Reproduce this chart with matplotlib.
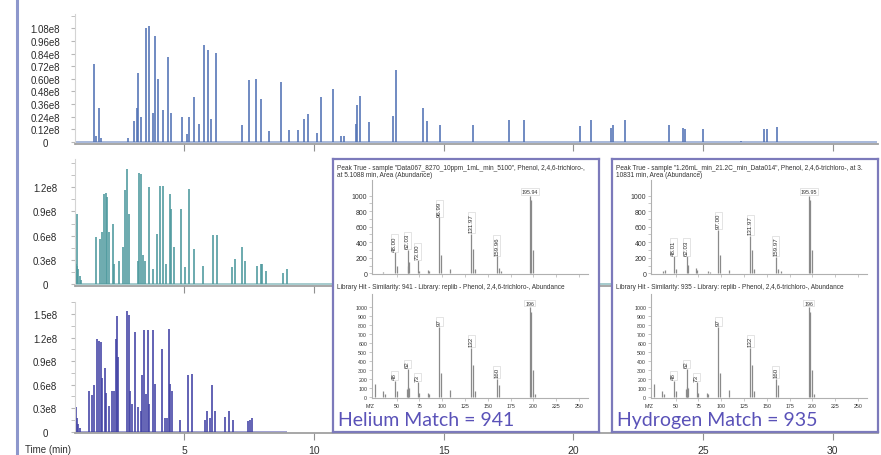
import matplotlib.pyplot as plt
from matplotlib.lines import Line2D

plt.rcParams['font.family'] = ['Liberation Sans', 'DejaVu Sans']

# chromatogram peaks: retention time (min) and height (x 1e8)
top_rt = [1.52, 1.60, 1.71, 1.78, 2.84, 3.07, 3.16, 3.22, 3.32, 3.52,
          3.63, 3.78, 3.86, 3.99, 4.19, 4.38, 4.49, 4.92, 5.09, 5.19,
          5.37, 5.57, 5.76, 5.91, 6.04, 6.22, 7.24, 7.51, 7.75, 7.96,
          8.28, 8.73, 9.04, 9.39, 9.60, 9.77, 10.13, 10.27, 10.74, 11.03,
          11.14, 11.60, 11.66, 11.77, 12.12, 13.03, 13.15, 14.21, 14.34, 14.87,
          16.11, 17.50, 18.08, 20.25, 20.66, 21.45, 21.54, 22.00, 23.70, 24.24,
          24.31, 24.98, 26.45, 27.35, 27.45, 27.85]
top_h = [0.74, 0.06, 0.32, 0.04, 0.04, 0.20, 0.32, 0.66, 0.24, 1.08,
         1.10, 0.28, 1.01, 0.60, 0.30, 0.81, 0.28, 0.24, 0.08, 0.24,
         0.43, 0.17, 0.92, 0.87, 0.22, 0.85, 0.16, 0.59, 0.60, 0.41,
         0.10, 0.57, 0.11, 0.11, 0.22, 0.27, 0.09, 0.43, 0.50, 0.06,
         0.06, 0.17, 0.35, 0.44, 0.19, 0.25, 0.68, 0.32, 0.20, 0.16,
         0.16, 0.21, 0.21, 0.15, 0.21, 0.13, 0.16, 0.21, 0.16, 0.13,
         0.12, 0.12, 0.01, 0.12, 0.12, 0.14]

mid_rt = [0.80, 0.83, 0.85, 0.88, 0.92, 0.97, 1.02, 1.60, 1.75, 1.82,
          1.92, 1.97, 2.03, 2.11, 2.24, 2.30, 2.49, 2.62, 2.71, 2.78,
          2.88, 3.23, 3.27, 3.34, 3.40, 3.50, 3.64, 3.78, 3.94, 4.06,
          4.19, 4.28, 4.45, 4.50, 4.60, 4.88, 5.04, 5.18, 5.37, 5.72,
          6.09, 6.25, 6.85, 6.97, 7.21, 7.34, 7.80, 7.95, 8.00, 8.16,
          8.82, 8.97]
mid_h = [0.95, 0.25, 0.22, 0.87, 0.18, 0.10, 0.05, 0.58, 0.56, 0.64,
         1.12, 1.13, 1.08, 0.64, 0.74, 0.25, 0.29, 0.46, 1.16, 1.43,
         0.87, 0.29, 1.38, 1.36, 0.36, 0.29, 1.20, 0.19, 0.62, 1.22,
         1.22, 0.25, 1.12, 0.93, 0.46, 0.93, 0.21, 1.18, 0.43, 0.22,
         0.61, 0.61, 0.21, 0.31, 0.46, 0.29, 0.22, 0.25, 0.25, 0.16,
         0.14, 0.18]

bot_rt = [0.80, 0.83, 0.87, 0.92, 0.97, 1.34, 1.43, 1.52, 1.65, 1.71,
          1.79, 1.84, 1.93, 1.98, 2.11, 2.20, 2.29, 2.36, 2.39, 2.46,
          2.78, 2.86, 2.91, 3.00, 3.10, 3.23, 3.32, 3.37, 3.46, 3.52,
          3.60, 3.65, 3.80, 3.87, 4.14, 4.24, 4.32, 4.40, 4.44, 4.54,
          4.83, 5.15, 5.30, 5.79, 5.86, 5.98, 6.08, 6.20, 6.58, 6.71,
          6.88, 7.47, 7.53, 7.60]
bot_h = [0.57, 0.31, 0.17, 0.10, 0.05, 0.52, 0.47, 0.59, 1.18, 1.16,
         1.14, 0.69, 0.81, 0.50, 0.33, 0.52, 0.52, 1.18, 1.48, 0.95,
         1.54, 1.49, 0.52, 0.35, 1.27, 0.31, 0.27, 0.72, 1.30, 0.48,
         1.30, 0.35, 1.30, 0.61, 1.06, 0.18, 0.18, 1.31, 0.61, 0.52,
         0.15, 0.72, 0.74, 0.15, 0.27, 0.17, 0.60, 0.27, 0.19, 0.27,
         0.15, 0.13, 0.15, 0.18]

top_run = [0.79, 31.7]
mid_run = [0.79, 31.7]
bot_run = [0.79, 8.95]

time_ticks = [5, 10, 15, 20, 25, 30]

top_yticks = [0, 0.12, 0.24, 0.36, 0.48, 0.60, 0.72, 0.84, 0.96, 1.08]
top_ylabels = ['0', '0.12e8', '0.24e8', '0.36e8', '0.48e8', '0.60e8',
               '0.72e8', '0.84e8', '0.96e8', '1.08e8']
top_yminor = [1.20]
mid_yticks = [0, 0.3, 0.6, 0.9, 1.2]
mid_ylabels = ['0', '0.3e8', '0.6e8', '0.9e8', '1.2e8']
mid_yminor = [0.15, 0.45, 0.75, 1.05, 1.35, 1.5]
bot_yticks = [0, 0.3, 0.6, 0.9, 1.2, 1.5]
bot_ylabels = ['0', '0.3e8', '0.6e8', '0.9e8', '1.2e8', '1.5e8']
bot_yminor = [0.15, 0.45, 0.75, 1.05, 1.35, 1.65]

# mass spectra (m/z, abundance)
he_mz = [35, 37, 48, 50, 62, 63, 64, 73, 75, 84, 86, 97, 99, 109, 132,
         134, 136, 160, 162, 165, 196, 198, 200]
he_ab = [20, 10, 270, 90, 300, 100, 140, 165, 30, 40, 30, 720, 240, 60, 510,
         310, 60, 220, 70, 30, 1000, 950, 300]
he_lab_mz = [48, 62, 73, 97, 132, 160, 196]
he_lab = ['48.00', '62.03', '73.00', '96.99', '131.97', '159.96', '195.94']

h2_mz = [36, 38, 48, 50, 62, 64, 72, 74, 85, 88, 97, 99, 109, 132, 134,
         136, 160, 162, 166, 196, 198, 200]
h2_ab = [30, 40, 220, 60, 220, 110, 70, 40, 30, 20, 560, 230, 40, 480, 300,
         60, 210, 60, 30, 1000, 950, 300]
h2_lab_mz = [48, 62, 97, 132, 160, 196]
h2_lab = ['48.01', '62.03', '97.00', '131.97', '159.97', '195.95']

lib_mz = [26, 35, 37, 48, 50, 61, 62, 63, 64, 73, 75, 84, 86, 97, 99, 109,
          132, 134, 136, 160, 162, 196, 198, 200, 202]
lib_ab = [140, 60, 30, 180, 60, 90, 310, 110, 100, 160, 40, 40, 30, 780, 270, 80,
          550, 350, 60, 200, 130, 1000, 950, 300, 30]
lib_lab_mz = [48, 62, 73, 97, 132, 160, 196]
lib_lab = ['48', '62', '73', '97', '132', '160', '196']

mz_ticks = [50, 75, 100, 125, 150, 175, 200, 225, 250]

W, H = 881, 456
fig = plt.figure(figsize=(W / 100, H / 100), dpi=100)


def rect(x0, y0, x1, y1):
    return [x0 / W, 1 - y1 / H, (x1 - x0) / W, (y1 - y0) / H]


def chrom(box, rt, h, run, color, ylim, yt, ylab, yminor, show_x=False):
    ax = fig.add_axes(rect(*box))
    ax.patch.set_alpha(0)
    ax.hlines(0, run[0], run[1], color=color, lw=1.3, alpha=0.55)
    ax.vlines(rt, 0, [v * 1e8 for v in h], color=color, lw=1.3, alpha=0.9)
    ax.set_xlim(0.786, 31.74)
    ax.set_ylim(ylim[0] * 1e8, ylim[1] * 1e8)
    for s in ['top', 'right']:
        ax.spines[s].set_visible(False)
    ax.spines['bottom'].set_color('#a0a0a0')
    ax.spines['bottom'].set_linewidth(1.3)
    ax.spines['left'].set_color('#d4d4d4')
    ax.spines['left'].set_linewidth(0.8)
    ax.set_xticks(time_ticks)
    ax.set_yticks([v * 1e8 for v in yt])
    ax.set_yticklabels(ylab)
    ax.set_yticks([v * 1e8 for v in yminor], minor=True)
    ax.tick_params(axis='y', which='both', length=3, color='#b8b8b8',
                   pad=18.5, labelsize=7, labelcolor='#2a2a2a')
    for lab in ax.get_yticklabels():
        lab.set_ha('center')
    ax.tick_params(axis='x', length=5, color='#909090', labelsize=7.5,
                   labelcolor='#333333', pad=4, labelbottom=show_x)
    return ax


chrom((75, 15, 878, 145), top_rt, top_h, top_run, '#5374b6', (-0.019, 1.216),
      top_yticks, top_ylabels, top_yminor)
chrom((75, 160, 878, 287), mid_rt, mid_h, mid_run, '#4f9a9e', (-0.025, 1.55),
      mid_yticks, mid_ylabels, mid_yminor)
chrom((75, 303, 878, 434), bot_rt, bot_h, bot_run, '#4444a6', (-0.017, 1.656),
      bot_yticks, bot_ylabels, bot_yminor, show_x=True)

fig.text(48 / W, 1 - 450 / H, 'Time (min)', fontsize=7, color='#333333',
         ha='center', va='center')

fig.add_artist(Line2D([16.5 / W, 16.5 / W], [0, 1], color='#8d97cc', lw=2.2,
                      transform=fig.transFigure))


def spectrum(box, mz, ab, lab_mz, lab, ylim, yt, yminor, labsize, xlabels):
    ax = fig.add_axes(rect(*box))
    ax.vlines(mz, 0, ab, color='#8a8a8a', lw=0.9)
    ax.set_xlim(23, 260)
    ax.set_ylim(*ylim)
    for s in ['top', 'right']:
        ax.spines[s].set_visible(False)
    for s in ['left', 'bottom']:
        ax.spines[s].set_color('#b0b0b0')
        ax.spines[s].set_linewidth(0.8)
    ax.set_xticks(mz_ticks)
    ax.set_yticks(yt)
    ax.set_yticks(yminor, minor=True)
    ax.tick_params(which='both', length=2, width=0.5, color='#b0b0b0',
                   labelsize=labsize, labelcolor='#333333', pad=1.5,
                   labelbottom=xlabels)
    for m, s in zip(lab_mz, lab):
        y = ab[mz.index(m)]
        box_style = dict(boxstyle='square,pad=0.15', fc='white', ec='#d0d0d0', lw=0.4)
        if m == lab_mz[-1]:
            ax.text(m, y + 20, s, ha='center', va='bottom', fontsize=3.8,
                    color='#333333', bbox=box_style)
        else:
            ax.text(m, y + 20, s, ha='center', va='bottom', rotation=90,
                    fontsize=4.4, color='#333333', bbox=box_style)
    return ax


def inset(x0, title1, title2, libline, match, mz, ab, lab_mz, lab):
    frame = fig.add_axes(rect(x0, 160, x0 + 266, 433))
    frame.set_xticks([])
    frame.set_yticks([])
    for s in frame.spines.values():
        s.set_color('#7c7abb')
        s.set_linewidth(1.6)
    fig.text((x0 + 4) / W, 1 - 168 / H, title1, fontsize=4.7, color='#333333', va='center')
    fig.text((x0 + 4) / W, 1 - 176 / H, title2, fontsize=4.7, color='#333333', va='center')
    spectrum((x0 + 39, 181, x0 + 255, 275), mz, ab, lab_mz, lab, (-9, 1202),
             [0, 200, 400, 600, 800, 1000], [100, 300, 500, 700, 900], 5, False)
    fig.text((x0 + 4) / W, 1 - 288 / H, libline, fontsize=4.7, color='#333333', va='center')
    spectrum((x0 + 39, 295, x0 + 255, 399), lib_mz, lib_ab, lib_lab_mz, lib_lab,
             (-15, 1149), list(range(0, 1001, 100)), [], 3.8, True)
    fig.text((x0 + 37) / W, 1 - 407 / H, 'M/Z', fontsize=3.8, color='#333333',
             ha='center', va='center')
    fig.text((x0 + 5) / W, 1 - 421 / H, match, fontsize=14, color='#5a52b8',
             family=['Lato', 'DejaVu Sans'], va='center')


inset(333, 'Peak True - sample "Data067_8270_10ppm_1mL_min_5100", Phenol, 2,4,6-trichloro-,',
      'at 5.1088 min, Area (Abundance)',
      'Library Hit - Similarity: 941 - Library: replib - Phenol, 2,4,6-trichloro-, Abundance',
      'Helium Match = 941', he_mz, he_ab, he_lab_mz, he_lab)
inset(612, 'Peak True - sample "1.26mL_min_21.2C_min_Data014", Phenol, 2,4,6-trichloro-, at 3.',
      '10831 min, Area (Abundance)',
      'Library Hit - Similarity: 935 - Library: replib - Phenol, 2,4,6-trichloro-, Abundance',
      'Hydrogen Match = 935', h2_mz, h2_ab, h2_lab_mz, h2_lab)

fig.savefig('out.png', dpi=100)
